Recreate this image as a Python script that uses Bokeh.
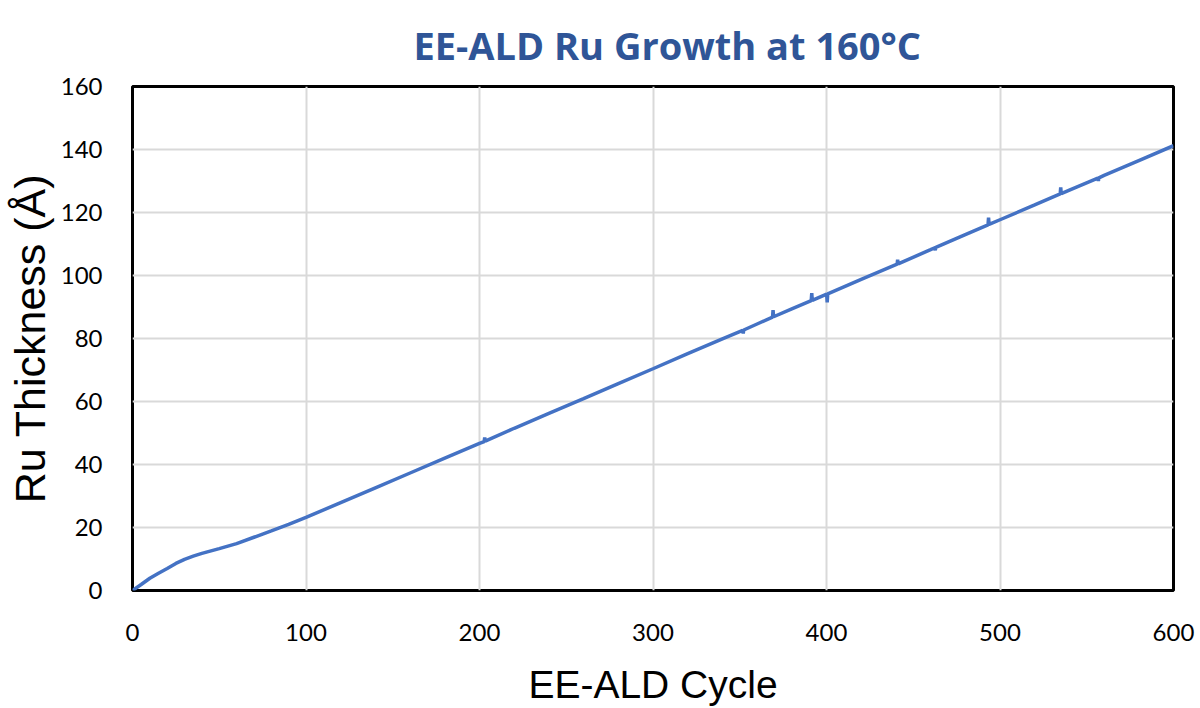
from bokeh.plotting import figure
from bokeh.models import Range1d, SingleIntervalTicker
from bokeh.embed import file_html
from bokeh.resources import INLINE

# Data
cycles = [0, 5, 10, 15, 20, 25, 30, 35, 40, 50, 60, 70, 80, 90, 100, 120, 140, 160,
          180, 200, 202.7, 203, 203.3, 220, 240, 260, 280, 300, 320, 340,
          351.7, 352, 352.3, 360, 368.9, 369.2, 369.5, 380, 391.2, 391.5, 391.8,
          400.1, 400.4, 400.7, 420, 440.7, 441, 441.3, 460, 462.4, 462.7, 463,
          480, 493.1, 493.4, 493.7, 500, 520, 534.7, 535, 535.3, 540,
          556.4, 556.7, 557, 560, 580, 600]
thickness = [0.0, 1.9, 3.9, 5.5, 7.0, 8.6, 9.9, 10.9, 11.8, 13.3, 14.9, 16.9, 18.9, 21.0, 23.2,
             27.9, 32.6, 37.3, 42.0, 46.7, 47.3, 48.6, 47.4, 51.5, 56.2, 60.9, 65.7, 70.4,
             75.2, 79.9, 82.6, 81.6, 82.7, 84.6, 86.8, 89.0, 86.9, 89.4, 92.0, 94.4, 92.1,
             94.1, 91.5, 94.2, 98.8, 103.6, 105.0, 103.7, 108.2, 108.8, 108.0, 108.9,
             113.0, 116.1, 118.4, 116.2, 117.7, 122.4, 125.9, 128.0, 126.0, 127.1,
             130.9, 130.0, 131.0, 131.8, 136.5, 141.2]

title_text = "EE-ALD Ru Growth at 160°C"
x_label = "EE-ALD Cycle"
y_label = "Ru Thickness (Å)"

p = figure(width=1200, height=708, output_backend="svg", toolbar_location=None,
           x_range=Range1d(0, 600), y_range=Range1d(0, 160),
           min_border_left=132, min_border_right=27, min_border_top=86, min_border_bottom=115)

p.line(cycles, thickness, line_color="#4472C4", line_width=3.5)

p.title.text = title_text
p.title.align = "left"
p.title.offset = 281
p.title.text_font = "Open Sans"
p.title.text_font_style = "bold"
p.title.text_font_size = "38px"
p.title.text_color = "#2F5597"
p.title.standoff = 32

p.outline_line_color = "black"
p.outline_line_width = 3
p.outline_line_alpha = 1.0

for ax in (p.xaxis[0], p.yaxis[0]):
    ax.axis_line_color = None
    ax.major_tick_line_color = None
    ax.minor_tick_line_color = None
    ax.major_label_text_font = "Lato"
    ax.major_label_text_font_size = "24px"
    ax.major_label_text_color = "black"
    ax.axis_label_text_font = "Liberation Sans"
    ax.axis_label_text_font_style = "normal"
    ax.axis_label_text_color = "black"

p.xaxis[0].axis_label_text_font_size = "39px"
p.yaxis[0].axis_label_text_font_size = "43px"
p.xaxis[0].ticker = SingleIntervalTicker(interval=100)
p.yaxis[0].ticker = SingleIntervalTicker(interval=20)
p.xaxis[0].axis_label = x_label
p.yaxis[0].axis_label = y_label
p.xaxis[0].major_label_standoff = 27
p.yaxis[0].major_label_standoff = 24
p.xaxis[0].axis_label_standoff = 19
p.yaxis[0].axis_label_standoff = 4

p.xgrid.grid_line_color = "#D9D9D9"
p.ygrid.grid_line_color = "#D9D9D9"
p.xgrid.grid_line_width = 2
p.ygrid.grid_line_width = 2

open("out.html", "w").write(file_html(p, INLINE))
